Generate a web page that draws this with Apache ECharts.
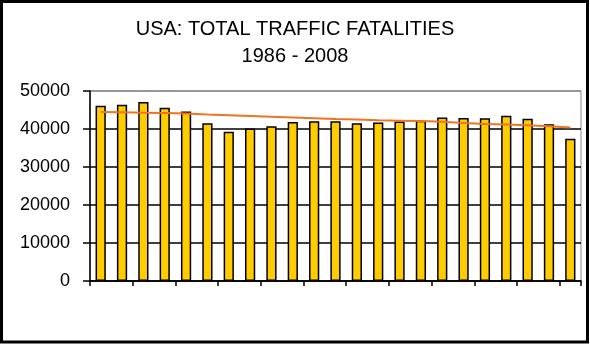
<!DOCTYPE html>
<html>
<head>
<meta charset="utf-8">
<script src="https://cdn.jsdelivr.net/npm/echarts@6/dist/echarts.min.js"></script>
<style>
html,body{margin:0;padding:0;background:#fff;}
#chart{width:590px;height:345px;}
</style>
</head>
<body>
<div id="chart"></div>
<script>
const titleText = 'USA: TOTAL TRAFFIC FATALITIES\n1986 - 2008';
const years = ['1986','1987','1988','1989','1990','1991','1992','1993','1994','1995','1996','1997','1998','1999','2000','2001','2002','2003','2004','2005','2006','2007','2008'];
const fatalities = [46087,46390,47087,45582,44599,41508,39250,40150,40716,41817,42065,42013,41501,41717,41945,42196,43005,42884,42836,43510,42708,41259,37423];
const trend = [44500,44400,44300,44200,44100,43800,43600,43400,43200,43000,42800,42600,42500,42300,42200,42100,41900,41600,41300,41200,41000,40700,40400];
const yMin = 0, yMax = 50000, yStep = 10000;

const chart = echarts.init(document.getElementById('chart'), null, {renderer:'canvas'});
chart.setOption({
  animation:false,
  backgroundColor:'#fff',
  title:{
    text:titleText,
    left:'center',
    top:11,
    textStyle:{fontFamily:'Liberation Sans',fontSize:20,fontWeight:'normal',color:'#000',lineHeight:27}
  },
  graphic:[{
    type:'rect',
    shape:{x:1.5,y:1.5,width:586,height:340.5},
    style:{fill:'none',stroke:'#000',lineWidth:3},
    z:100
  }],
  grid:{left:90,top:91,right:9,bottom:64,show:true,borderColor:'#888',borderWidth:1,backgroundColor:'#fff'},
  xAxis:{
    type:'category',
    data:years,
    boundaryGap:true,
    axisLine:{lineStyle:{color:'#000',width:1.5}},
    axisTick:{show:true,length:5,lineStyle:{color:'#000',width:1.5}},
    axisLabel:{show:false},
    splitLine:{show:false}
  },
  yAxis:{
    type:'value',
    min:yMin,max:yMax,interval:yStep,
    axisLine:{show:true,lineStyle:{color:'#000',width:1.5}},
    axisTick:{show:true,length:7,lineStyle:{color:'#000',width:1.5}},
    axisLabel:{margin:20,fontFamily:'Liberation Sans',fontSize:18,color:'#000',formatter:function(v){return String(v);}},
    splitLine:{show:true,lineStyle:{color:['#000','#000','#000','#000','#000','#888'],width:1.5}}
  },
  series:[{
    type:'bar',
    data:fatalities,
    barWidth:'48%',
    itemStyle:{color:'#FFCC00',borderColor:'#000',borderWidth:1.5},
    z:2
  },{
    type:'line',
    data:trend,
    symbol:'none',
    lineStyle:{color:'#F07322',width:2},
    z:3
  }]
});
</script>
</body>
</html>
